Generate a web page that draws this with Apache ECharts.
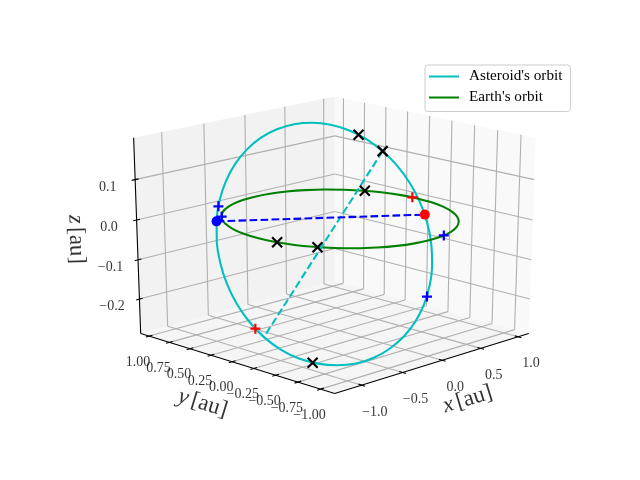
<!DOCTYPE html>
<html><head><meta charset="utf-8">
<style>html,body{margin:0;padding:0;background:#fff}#c{width:640px;height:480px}</style>
<script src="https://cdn.jsdelivr.net/npm/echarts@6/dist/echarts.min.js"></script>
</head><body><div id="c"></div>
<script>
const xLim=[-1.275,1.095], yLim=[-1.11,1.06], zLim=[-0.279,0.192];
const elevDeg=20, azimDeg=-135;
const xTicks=[-1,-0.5,0,0.5,1], xTickLabels=['−1.0','−0.5','0.0','0.5','1.0'];
const yTicks=[1,0.75,0.5,0.25,0,-0.25,-0.5,-0.75,-1], yTickLabels=['1.00','0.75','0.50','0.25','0.00','−0.25','−0.50','−0.75','−1.00'];
const zTicks=[-0.2,-0.1,0,0.1], zTickLabels=['−0.2','−0.1','0.0','0.1'];
const earthOrbit=[[1,0,0],[.985,.174,0],[.94,.342,0],[.866,.5,0],[.766,.643,0],[.643,.766,0],[.5,.866,0],[.342,.94,0],[.174,.985,0],[0,1,0],[-.174,.985,0],[-.342,.94,0],[-.5,.866,0],[-.643,.766,0],[-.766,.643,0],[-.866,.5,0],[-.94,.342,0],[-.985,.174,0],[-1,0,0],[-.985,-.174,0],[-.94,-.342,0],[-.866,-.5,0],[-.766,-.643,0],[-.643,-.766,0],[-.5,-.866,0],[-.342,-.94,0],[-.174,-.985,0],[0,-1,0],[.174,-.985,0],[.342,-.94,0],[.5,-.866,0],[.643,-.766,0],[.766,-.643,0],[.866,-.5,0],[.94,-.342,0],[.985,-.174,0],[1,0,0]];
const asteroidOrbit=[[.6945,.1368,.127],[.6509,.2858,.1518],[.5805,.4247,.1705],[.4849,.5495,.1826],[.3675,.6563,.1876],[.2318,.7416,.1857],[.0817,.8033,.1766],[-.0782,.8391,.1607],[-.2429,.8481,.1384],[-.4074,.8301,.1106],[-.5667,.7855,.078],[-.7162,.7157,.0415],[-.8511,.6227,.0024],[-.9674,.5096,-.0383],[-1.0615,.3797,-.0792],[-1.1307,.2369,-.1192],[-1.1727,.0855,-.1569],[-1.1863,-.0698,-.1914],[-1.1711,-.2242,-.2214],[-1.1275,-.3732,-.2452],[-1.0571,-.5121,-.2629],[-.9615,-.6369,-.273],[-.8441,-.7437,-.277],[-.7084,-.829,-.2751],[-.5583,-.8907,-.266],[-.3984,-.9265,-.2501],[-.2337,-.9355,-.2288],[-.0692,-.9175,-.202],[.0901,-.8729,-.1704],[.2396,-.8031,-.1349],[.3745,-.7101,-.0968],[.4908,-.597,-.0561],[.5849,-.4671,-.0152],[.6541,-.3243,.0248],[.6961,-.1729,.0625],[.7097,-.0176,.097],[.6945,.1368,.127]];
const apsisLine=[[.6945,.1368,.127],[-1.1711,-.2242,-.2214]];
const nodeLine=[[-.8587,.6167,0],[.6122,-.4183,0]];
const blackCrosses=[[.6224,.3495,.1609],[-.9906,-.6036,-.2712],[.6945,.1368,.127],[-.848,-.53,0],[-.979,-.202,0],[.869,.495,0]];
const bluePluses=[[-.7625,.6875,.0288],[.156,-.8458,-.1571],[-.713,.701,0],[.198,-.98,0]];
const redPluses=[[.998,.056,0],[-1.1831,-.138,-.2052]];
const blueDot=[[-.8587,.6167,0]], redDot=[[.6122,-.4183,0]];
const seriesNames=["Asteroid's orbit","Earth's orbit"];

const FONT='"Liberation Serif"', INK='#000000';
const rad=Math.PI/180, ce=Math.cos(elevDeg*rad), se=Math.sin(elevDeg*rad), ca=Math.cos(azimDeg*rad), sa=Math.sin(azimDeg*rad);
const w=[ce*ca,ce*sa,se], U=[-sa,ca,0], V=[-se*ca,-se*sa,ce];
const span=l=>l[1]-l[0], mid=l=>(l[0]+l[1])/2;
function proj(x,y,z){
  const p=[(x-mid(xLim))/span(xLim),(y-mid(yLim))/span(yLim),(z-mid(zLim))/span(zLim)];
  const dot=a=>a[0]*p[0]+a[1]*p[1]+a[2]*p[2];
  const q=10-dot(w);
  return [dot(U)/q,dot(V)/q];
}
const nudge=(p,dxp,dyp)=>[p[0]+dxp*0.185/496,p[1]-dyp*0.185/369.6];
const pad=l=>[l[0]-span(l)/48,l[1]+span(l)/48];
const [x0,x1]=pad(xLim),[y0,y1]=pad(yLim),[z0,z1]=pad(zLim);
const dx=span(xLim)/12,dy=span(yLim)/12,dz=span(zLim)/12;
const poly=(...pts)=>pts.flatMap(p=>proj(...p));
const seg=(a,b)=>[...proj(...a),...proj(...b)];
const panes=[
  poly([x1,y0,z0],[x1,y1,z0],[x1,y1,z1],[x1,y0,z1]),
  poly([x0,y1,z0],[x1,y1,z0],[x1,y1,z1],[x0,y1,z1]),
  poly([x0,y0,z0],[x1,y0,z0],[x1,y1,z0],[x0,y1,z0])];
const paneColors=['#f9f9f9','#f2f2f2','#f5f5f5'];
const grid=[];
xTicks.forEach(t=>{grid.push(seg([t,y0,z0],[t,y1,z0]),seg([t,y1,z0],[t,y1,z1]));});
yTicks.forEach(t=>{grid.push(seg([x0,t,z0],[x1,t,z0]),seg([x1,t,z0],[x1,t,z1]));});
zTicks.forEach(t=>{grid.push(seg([x0,y1,t],[x1,y1,t]),seg([x1,y1,t],[x1,y0,t]));});
const axes=[seg([x0,y0,z0],[x1,y0,z0]),seg([x0,y0,z0],[x0,y1,z0]),seg([x0,y1,z0],[x0,y1,z1])];
const ticks=[];
const tf=0.2;
xTicks.forEach(t=>ticks.push(seg([t,y0-tf*dy,z0],[t,y0+tf*dy,z0])));
yTicks.forEach(t=>ticks.push(seg([x0-tf*dx,t,z0],[x0+tf*dx,t,z0])));
zTicks.forEach(t=>ticks.push(seg([x0-tf*dx,y1,t],[x0+tf*dx,y1,t])));

const lineSeg=(name,data,color,lw,z)=>({type:'custom',name,silent:true,animation:false,clip:false,z,coordinateSystem:'cartesian2d',
  encode:{x:0,y:1},data,renderItem:(p,api)=>{const a=api.coord([api.value(0),api.value(1)]),b=api.coord([api.value(2),api.value(3)]);
  return {type:'line',shape:{x1:a[0],y1:a[1],x2:b[0],y2:b[1]},style:{stroke:color,lineWidth:lw,fill:null}};}});
const paneSeries={type:'custom',silent:true,animation:false,clip:false,z:1,coordinateSystem:'cartesian2d',encode:{x:0,y:1},data:panes,
  renderItem:(p,api)=>{const pts=[0,2,4,6].map(i=>api.coord([api.value(i),api.value(i+1)]));
  return {type:'polygon',shape:{points:pts},style:{fill:paneColors[p.dataIndex],stroke:null}};}};
const curve=(name,pts,color,z,dash,smooth)=>({type:'line',name,data:pts.map(p=>proj(...p)),symbol:'none',showSymbol:false,smooth:smooth?0.33:false,animation:false,clip:false,z,silent:true,
  lineStyle:{color,width:2.08,type:dash?[7.7,3.3]:'solid',cap:'butt'},itemStyle:{color}});
const marks=(pts,symbol,color,size,z,fill)=>({type:'scatter',data:pts.map(p=>proj(...p)),symbol,symbolSize:size,animation:false,clip:false,z,silent:true,
  itemStyle:fill?{color,opacity:1}:{color:'none',borderColor:color,borderWidth:2.2,opacity:1}});
const CROSS='path://M0,0L10,10M0,10L10,0', PLUS='path://M5,0L5,10M0,5L10,5';
const texts=(items,dxp,dyp,size)=>({type:'scatter',symbolSize:0,animation:false,clip:false,z:6,silent:true,
  data:items.map(it=>({value:nudge(it.p,dxp,dyp),name:it.t})),
  label:{show:true,position:'inside',formatter:d=>d.name,fontFamily:FONT,fontSize:size,color:INK}});
const axisLabel=(pos,dxp,dyp,letter,rot)=>({type:'scatter',symbolSize:0,animation:false,clip:false,z:6,silent:true,data:[{value:nudge(pos,dxp,dyp),name:letter}],
  label:{show:true,position:'inside',rotate:rot,formatter:'{i|'+letter+'} {r|[au]}',color:INK,
  rich:{i:{fontFamily:FONT,fontStyle:'italic',fontSize:23,color:INK},r:{fontFamily:FONT,fontSize:23,color:INK}}}});

const option={
  animation:false,
  grid:{left:80,right:64,top:57.6,bottom:52.8},
  xAxis:{type:'value',min:-0.095,max:0.09,show:false},
  yAxis:{type:'value',min:-0.095,max:0.09,show:false},
  legend:{data:seriesNames.map(name=>({name,icon:'rect'})),orient:'vertical',left:425,top:65,padding:[4,8,6.5,4],itemWidth:30,itemHeight:2,itemGap:6,
    backgroundColor:'rgba(255,255,255,0.8)',borderColor:'#cccccc',borderWidth:1,borderRadius:3,
    textStyle:{fontFamily:FONT,fontSize:15.2,color:INK,padding:[0,0,0,5]},selectedMode:false},
  series:[
    paneSeries,
    lineSeg('grid',grid,'#b0b0b0',1.1,2),
    lineSeg('axes',axes,'#000000',1.1,3),
    lineSeg('ticks',ticks,'#000000',1.1,3),
    curve(seriesNames[0],asteroidOrbit,'#00bfbf',4,false,true),
    curve(seriesNames[1],earthOrbit,'#008000',4,false,true),
    curve('apsis',apsisLine,'#00bfbf',4,true,false),
    curve('nodes',nodeLine,'#0000ff',4,true,false),
    marks(blackCrosses,CROSS,'#000000',10,5),
    marks(bluePluses,PLUS,'#0000ff',10,5),
    marks(redPluses,PLUS,'#ff0000',10,5),
    marks(blueDot,'circle','#0000ff',10,5,true),
    marks(redDot,'circle','#ff0000',10,5,true),
    texts(xTicks.map((t,i)=>({p:proj(t,y0,z0),t:xTickLabels[i]})),13,27,14),
    texts(yTicks.map((t,i)=>({p:proj(x0,t,z0),t:yTickLabels[i]})),-11,26,14),
    texts(zTicks.map((t,i)=>({p:proj(x0,y1,t),t:zTickLabels[i]})),-27.5,7.5,14),
    axisLabel(proj(mid([x0,x1]),y0,z0),32.5,37,'x',17),
    axisLabel(proj(x0,mid([y0,y1]),z0),-31.5,41,'y',-17),
    axisLabel(proj(x0,y1,mid([z0,z1])),-61,2,'z',-88)
  ]
};
echarts.init(document.getElementById('c')).setOption(option);
</script></body></html>
